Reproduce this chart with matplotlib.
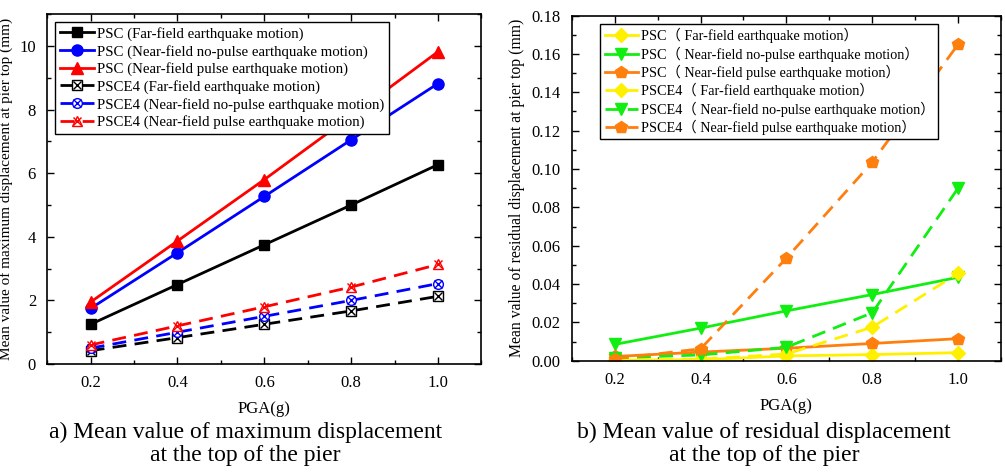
import matplotlib
matplotlib.use('Agg')
import matplotlib.pyplot as plt
from matplotlib.ticker import MultipleLocator
from matplotlib.legend_handler import HandlerTuple

plt.rcParams['font.family'] = ['Liberation Serif', 'Noto Sans CJK SC', 'DejaVu Sans']

# data
pga = [0.2, 0.4, 0.6, 0.8, 1.0]

# a) maximum displacement (mm)
max_psc_far = [1.25, 2.50, 3.75, 5.00, 6.27]
max_psc_nopulse = [1.75, 3.50, 5.27, 7.05, 8.82]
max_psc_pulse = [1.95, 3.87, 5.80, 7.80, 9.82]
max_pse_far = [0.42, 0.83, 1.25, 1.67, 2.13]
max_pse_nopulse = [0.50, 1.00, 1.50, 2.00, 2.53]
max_pse_pulse = [0.60, 1.20, 1.80, 2.42, 3.13]

# b) residual displacement (mm)
res_psc_far = [0.0003, 0.0005, 0.0025, 0.0032, 0.0042]
res_psc_nopulse = [0.0085, 0.0170, 0.0260, 0.0345, 0.0435]
res_psc_pulse = [0.0022, 0.0045, 0.0065, 0.0090, 0.0115]
res_pse_far = [0.0003, 0.0008, 0.0035, 0.0175, 0.0455]
res_pse_nopulse = [0.0015, 0.0030, 0.0070, 0.0250, 0.0900]
res_pse_pulse = [0.0010, 0.0062, 0.0535, 0.1035, 0.1650]

labels_a = ['PSC (Far-field earthquake motion)',
            'PSC (Near-field no-pulse earthquake motion)',
            'PSC (Near-field pulse earthquake motion)',
            'PSCE4 (Far-field earthquake motion)',
            'PSCE4 (Near-field no-pulse earthquake motion)',
            'PSCE4 (Near-field pulse earthquake motion)']
labels_b = ['PSC（ Far-field earthquake motion）',
            'PSC（ Near-field no-pulse earthquake motion）',
            'PSC（ Near-field pulse earthquake motion）',
            'PSCE4（ Far-field earthquake motion）',
            'PSCE4（ Near-field no-pulse earthquake motion）',
            'PSCE4（ Near-field pulse earthquake motion）']

fig = plt.figure(figsize=(10.05, 4.74), dpi=100)
ax1 = fig.add_axes([0.047, 0.232, 0.432, 0.738])
ax2 = fig.add_axes([0.569, 0.239, 0.427, 0.728])

dash = (5, 3)
lw = 2

# left panel
handles_a = []
for y, c, m, ms in [(max_psc_far, 'black', 's', 7),
                    (max_psc_nopulse, 'blue', 'o', 8),
                    (max_psc_pulse, 'red', '^', 8)]:
    l, = ax1.plot(pga, y, '-', color=c, lw=lw, marker=m, ms=ms)
    handles_a.append(l)
for y, c, m in [(max_pse_far, 'black', 's'),
                (max_pse_nopulse, 'blue', 'o'),
                (max_pse_pulse, 'red', '^')]:
    l, = ax1.plot(pga, y, color=c, lw=lw, dashes=dash, marker=m, ms=7,
                  mfc='white', mec=c, mew=1.0)
    x, = ax1.plot(pga, y, ls='none', marker='x', ms=6, mec=c, mew=1.0)
    handles_a.append((l, x))

ax1.set_xlim(0.1, 1.1)
ax1.set_ylim(0, 11)
ax1.xaxis.set_minor_locator(MultipleLocator(0.1))
ax1.yaxis.set_major_locator(MultipleLocator(2))
ax1.yaxis.set_minor_locator(MultipleLocator(1))
ax1.set_xticks([0.2, 0.4, 0.6, 0.8, 1.0])
ax1.set_xticklabels(['0.2', '0.4', '0.6', '0.8', '1.0'])
ax1.set_xlabel('PGA(g)', fontsize=12, labelpad=7)
ax1.set_ylabel('Mean value of maximum displacement at pier top (mm)', fontsize=11)
ax1.yaxis.set_label_coords(-0.078, 0.5)
ax1.legend(handles_a, labels_a, handler_map={tuple: HandlerTuple(ndivide=1)},
           loc='upper left', bbox_to_anchor=(0.012, 0.985), fontsize=10.7, frameon=True,
           fancybox=False, edgecolor='black', framealpha=1, handlelength=2.3, handletextpad=0.2,
           borderpad=0.3, labelspacing=0.25, borderaxespad=0.2)

# right panel
c_y, c_g, c_o = '#FFF000', '#11EE11', '#FF7F0E'
ax2.plot(pga, res_psc_far, '-', color=c_y, lw=lw, marker='D', ms=7, label=labels_b[0])
ax2.plot(pga, res_psc_nopulse, '-', color=c_g, lw=lw, marker='v', ms=9, label=labels_b[1])
ax2.plot(pga, res_psc_pulse, '-', color=c_o, lw=lw, marker='p', ms=9, label=labels_b[2])
ax2.plot(pga, res_pse_far, color=c_y, lw=lw, dashes=dash, marker='D', ms=7, label=labels_b[3])
ax2.plot(pga, res_pse_nopulse, color=c_g, lw=lw, dashes=dash, marker='v', ms=9, label=labels_b[4])
ax2.plot(pga, res_pse_pulse, color=c_o, lw=lw, dashes=dash, marker='p', ms=9, label=labels_b[5])

ax2.set_xlim(0.1, 1.1)
ax2.set_ylim(0, 0.18)
ax2.xaxis.set_minor_locator(MultipleLocator(0.1))
ax2.yaxis.set_minor_locator(MultipleLocator(0.01))
ax2.set_xticks([0.2, 0.4, 0.6, 0.8, 1.0])
ax2.set_xticklabels(['0.2', '0.4', '0.6', '0.8', '1.0'])
yt = [0, 0.02, 0.04, 0.06, 0.08, 0.10, 0.12, 0.14, 0.16, 0.18]
ax2.set_yticks(yt)
ax2.set_yticklabels([f'{v:.2f}' for v in yt])
ax2.set_xlabel('PGA(g)', fontsize=12, labelpad=7)
ax2.set_ylabel('Mean value of residual displacement at pier top (mm)', fontsize=11.3, labelpad=5)
ax2.legend(loc='upper left', bbox_to_anchor=(0.06, 0.985), fontsize=10.3, frameon=True,
           fancybox=False, edgecolor='black', framealpha=1, handlelength=2.3, handletextpad=0.2,
           borderpad=0.3, labelspacing=0.22, borderaxespad=0.2)

for ax in (ax1, ax2):
    ax.tick_params(which='both', direction='in', top=True, right=True, labelsize=12, pad=8)
    ax.tick_params(which='major', length=5, width=1)
    ax.tick_params(which='minor', length=3, width=1)
    for s in ax.spines.values():
        s.set_linewidth(1.2)

fig.text(0.244, 0.063, 'a) Mean value of maximum displacement\nat the top of the pier',
         ha='center', va='center', fontsize=17, linespacing=1.15)
fig.text(0.760, 0.063, 'b) Mean value of residual displacement\nat the top of the pier',
         ha='center', va='center', fontsize=17, linespacing=1.15)

fig.savefig('out.png', dpi=100)
